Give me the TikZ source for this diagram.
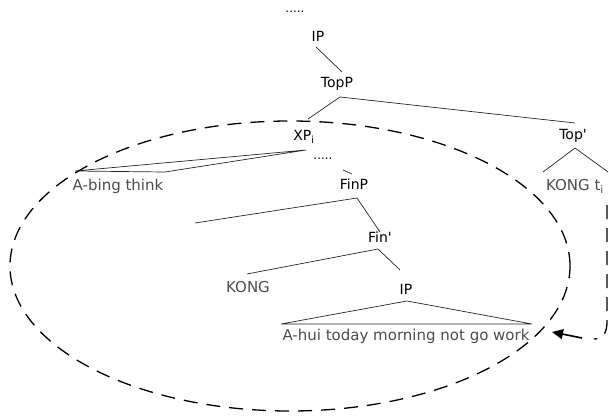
\documentclass[tikz,border=0pt]{standalone}
\usepackage{fontspec}
\setmainfont{DejaVu Sans}[Ligatures=TeXOff]
\usetikzlibrary{arrows.meta}
\begin{document}
\begin{tikzpicture}[x=1pt,y=-1pt,
  lab/.style={font=\fontsize{14}{16}\selectfont, inner sep=0pt},
  leaf/.style={font=\fontsize{15}{16}\selectfont, text=black!70, inner sep=0pt},
  dotsty/.style={font=\fontsize{12}{12}\selectfont, inner sep=0pt},
  br/.style={line width=0.7pt, black!85},
  ell/.style={line width=1.3pt, dash pattern=on 14pt off 9pt}]
\useasboundingbox (0,0) rectangle (609,417);

% labels
\node[dotsty] (dots1) at (295,12) {.....};
\node[lab] (ip1) at (318,36) {IP};
\node[lab] (topp) at (337,84) {TopP};
\node[lab] (xp) at (304,137) {XP\textsubscript{i}};
\node[dotsty] (dots2) at (323,159) {.....};
\node[lab] (finp) at (354,184) {FinP};
\node[lab] (finbar) at (380,237) {Fin'};
\node[leaf] (kong) at (248,287) {KONG};
\node[lab] (ip2) at (406,289) {IP};
\node[leaf] (ahui) at (406,336) {A-hui today morning not go work};
\node[leaf] (abing) at (118,186) {A-bing think};
\node[lab] (topbar) at (573,136) {Top'};
\node[leaf] (kongt) at (575,186) {KONG t\textsubscript{i}};

% branch points
\coordinate (ip1b) at (316,47);
\coordinate (toppt) at (342,72);
\coordinate (toppb) at (340,97);
\coordinate (xpt) at (308,119);
\coordinate (topbart) at (575,123);
\coordinate (xpb) at (306,150);
\coordinate (abl) at (75,171);
\coordinate (abr) at (165,172);
\coordinate (d2b) at (343,170);
\coordinate (finpt) at (352,174);
\coordinate (finpb) at (357,198);
\coordinate (finl) at (195,223);
\coordinate (finbart) at (380,232);
\coordinate (finbarb) at (378,249);
\coordinate (kongt0) at (247,274);
\coordinate (ip2t) at (400,270);
\coordinate (ip2b) at (407,301);
\coordinate (ahl) at (281,324);
\coordinate (ahr) at (532,324);
\coordinate (topbarb) at (575,148);
\coordinate (tbl) at (543,172);
\coordinate (tbr) at (608,172);

% branches
\draw[br] (ip1b) -- (toppt);
\draw[br] (xpt) -- (toppb) -- (topbart);
\draw[br] (xpb) -- (abl) -- (abr) -- cycle;
\draw[br] (d2b) -- (finpt);
\draw[br] (finl) -- (finpb) -- (finbart);
\draw[br] (kongt0) -- (finbarb) -- (ip2t);
\draw[br] (ip2b) -- (ahl) -- (ahr) -- cycle;
\draw[br] (tbl) -- (topbarb) -- (tbr);

% dashed ellipse
\draw[ell] (290,266) ellipse [x radius=280pt, y radius=145pt];

% movement arrow
\coordinate (mvtop) at (607,205);
\coordinate (mvturn) at (607,322);
\coordinate (mvbot) at (594,339);
\coordinate (mvstart) at (582,338);
\coordinate (mvend) at (552,332);
\draw[ell] (mvtop) -- (mvturn) .. controls (607,334) and (602,339) .. (mvbot);
\draw[line width=1.6pt, -{Triangle[length=11pt,width=10pt]}] (mvstart) -- (mvend);
\end{tikzpicture}
\end{document}
